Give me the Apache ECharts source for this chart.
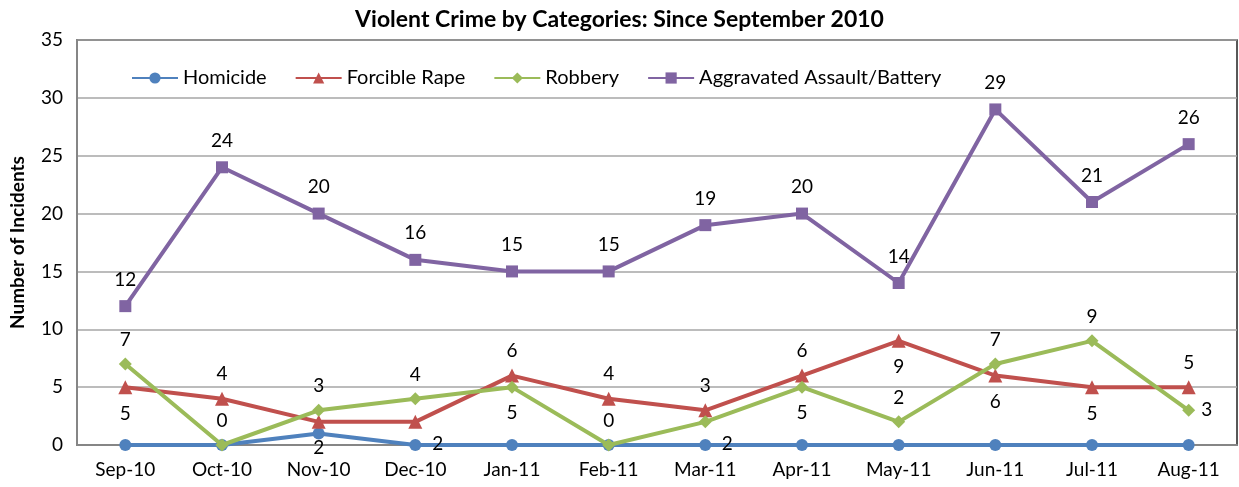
<!DOCTYPE html>
<html>
<head>
<meta charset="utf-8">
<script src="https://cdn.jsdelivr.net/npm/echarts@6/dist/echarts.min.js"></script>
<style>
	html, body { margin: 0; padding: 0; background: #fff; }
	#chartmain { width: 1239px; height: 487px; }
</style>
</head>
<body>
<div id="chartmain"></div>
<script>
var months = ['Sep-10', 'Oct-10', 'Nov-10', 'Dec-10', 'Jan-11', 'Feb-11', 'Mar-11', 'Apr-11', 'May-11', 'Jun-11', 'Jul-11', 'Aug-11'];
var homicide = [0, 0, 1, 0, 0, 0, 0, 0, 0, 0, 0, 0];
var rape = [5, 4, 2, 2, 6, 4, 3, 6, 9, 6, 5, 5];
var robbery = [7, 0, 3, 4, 5, 0, 2, 5, 2, 7, 9, 3];
var assault = [12, 24, 20, 16, 15, 15, 19, 20, 14, 29, 21, 26];

// where each data label sits (t = above, b = below, r = right, rb = right and lower)
var rapeLabelAt = ['b', 't', 'b', 'rb', 't', 't', 't', 't', 'b', 'b', 'b', 't'];
var robberyLabelAt = ['t', 't', 't', 't', 'b', 't', 'rb', 'b', 't', 't', 't', 'r'];

var fontName = 'Lato, "Open Sans", sans-serif';

function labelFor(code) {
	if (code == 't') return { position: 'top', distance: 8 };
	if (code == 'b') return { position: 'bottom', distance: 10 };
	if (code == 'r') return { position: 'right', distance: 6 };
	return { position: 'right', distance: 10, offset: [0, 22] };
}

function withLabels(values, codes) {
	return values.map(function(v, i) {
		return { value: v, label: labelFor(codes[i]) };
	});
}

var labelStyle = {
	show: true,
	color: '#000',
	fontSize: 19,
	fontFamily: fontName
};

var option = {
	title : {
		text : 'Violent Crime by Categories: Since September 2010',
		left : 'center',
		top : 3,
		textStyle : {
			fontSize : 23,
			fontWeight : 'bold',
			color : '#000',
			fontFamily : fontName
		}
	},
	legend : {
		left : 126,
		top : 63,
		itemWidth : 46,
		itemHeight : 14,
		itemGap : 28,
		textStyle : {
			fontSize : 20,
			color : '#000',
			fontFamily : fontName
		},
		data : ['Homicide', 'Forcible Rape', 'Robbery', 'Aggravated Assault/Battery']
	},
	grid : {
		left : 72,
		right : 2,
		top : 40,
		bottom : 42,
		show : true,
		borderColor : '#222',
		borderWidth : 1.5
	},
	xAxis : {
		type : 'category',
		data : months,
		boundaryGap : true,
		axisLine : { lineStyle : { color : '#868686', width : 2 } },
		axisTick : { show : false },
		axisLabel : {
			fontSize : 19,
			color : '#000',
			fontFamily : fontName,
			margin : 15
		}
	},
	yAxis : {
		type : 'value',
		min : 0,
		max : 35,
		interval : 5,
		name : 'Number of Incidents',
		nameLocation : 'middle',
		nameGap : 50,
		nameTextStyle : {
			fontSize : 19,
			fontWeight : 'bold',
			color : '#000',
			fontFamily : fontName
		},
		axisLine : { show : true, lineStyle : { color : '#868686', width : 2 } },
		axisTick : { show : false },
		splitLine : { lineStyle : { color : '#a6a6a6', width : 1.5 } },
		axisLabel : {
			fontSize : 19,
			color : '#000',
			fontFamily : fontName,
			margin : 14
		}
	},
	series : [ {
		name : 'Homicide',
		type : 'line',
		data : homicide,
		symbol : 'circle',
		symbolSize : 12,
		color : '#4F81BD',
		lineStyle : { width : 4 },
		z : 2
	}, {
		name : 'Forcible Rape',
		type : 'line',
		data : withLabels(rape, rapeLabelAt),
		symbol : 'triangle',
		symbolSize : 14,
		color : '#C0504D',
		lineStyle : { width : 4 },
		label : labelStyle,
		z : 3
	}, {
		name : 'Robbery',
		type : 'line',
		data : withLabels(robbery, robberyLabelAt),
		symbol : 'diamond',
		symbolSize : 13,
		color : '#9BBB59',
		lineStyle : { width : 4 },
		label : labelStyle,
		z : 4
	}, {
		name : 'Aggravated Assault/Battery',
		type : 'line',
		data : assault,
		symbol : 'rect',
		symbolSize : 12,
		color : '#8064A2',
		lineStyle : { width : 4 },
		label : {
			show : true,
			position : 'top',
			distance : 11,
			color : '#000',
			fontSize : 19,
			fontFamily : fontName
		},
		z : 5
	} ]
};

var myChart = echarts.init(document.getElementById('chartmain'));
myChart.setOption(option);
</script>
</body>
</html>
